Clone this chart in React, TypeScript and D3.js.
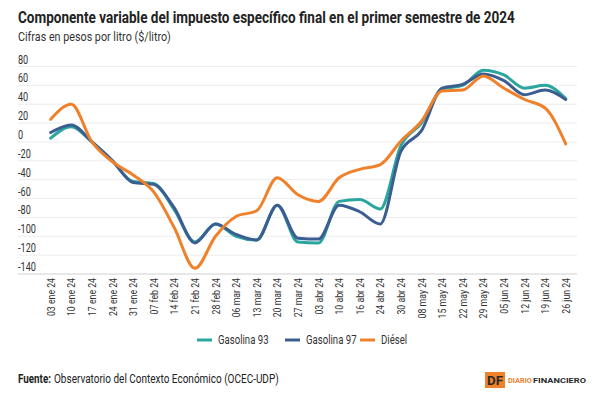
import React, { useEffect, useRef } from "react";
import * as d3 from "d3";

const dates = [
  "03 ene 24", "10 ene 24", "17 ene 24", "24 ene 24", "31 ene 24",
  "07 feb 24", "14 feb 24", "21 feb 24", "28 feb 24", "06 mar 24",
  "13 mar 24", "20 mar 24", "27 mar 24", "03 abr 24", "10 abr 24",
  "16 abr 24", "24 abr 24", "30 abr 24", "08 may 24", "15 may 24",
  "22 may 24", "29 may 24", "05 jun 24", "12 jun 24", "19 jun 24",
  "26 jun 24",
];

const gasolina93 = [4, 16, 0, -20, -42, -44, -72, -106, -87, -100, -104, -67, -106, -107, -63, -61, -71, -4, 20, 56, 60, 76, 71, 57, 60, 46];
const gasolina97 = [10, 18, 0, -20, -43, -45, -70, -107, -87, -98, -104, -67, -102, -103, -67, -74, -87, -10, 12, 57, 61, 72, 65, 50, 55, 45];
const diesel = [24, 40, 0, -21, -35, -53, -91, -134, -100, -79, -73, -38, -56, -63, -38, -29, -24, 1, 22, 54, 55, 70, 57, 45, 36, -2];

const yTicks = [80, 60, 40, 20, 0, -20, -40, -60, -80, -100, -120, -140];

const seriesNames = ["Gasolina 93", "Gasolina 97", "Diésel"];
const seriesColors = ["#2aa69f", "#3b5e92", "#f0802a"];

const font = "'Roboto', sans-serif";
const squeeze = 0.76; // Roboto is wider than the condensed face in the original

const App = () => {
  const svgRef = useRef<SVGSVGElement>(null);

  useEffect(() => {
    document.body.style.margin = "0";
    const svg = d3.select(svgRef.current);
    svg.selectAll("*").remove();

    svg.attr("width", 600).attr("height", 394).style("background", "#fff");

    // text squeezed horizontally to a given width
    const fitText = (x: number, y: number, str: string, width: number, size: number, weight = "normal", fill = "#333") => {
      const t = svg
        .append("text")
        .attr("font-family", font)
        .attr("font-size", size)
        .attr("font-weight", weight)
        .attr("fill", fill)
        .text(str);
      const len = (t.node() as SVGTextElement).getComputedTextLength();
      t.attr("transform", `translate(${x},${y}) scale(${width / len},1)`);
      return t;
    };

    // Title and subtitle
    fitText(18, 23, "Componente variable del impuesto específico final en el primer semestre de 2024", 497, 17, "bold", "#222");
    fitText(18, 41, "Cifras en pesos por litro ($/litro)", 153, 12.5);

    // Scales
    const x = d3.scalePoint().domain(dates).range([50.7, 565.7]);
    const y = d3.scaleLinear().domain([-140, 80]).range([274, 66.5]);

    // Grid lines + y labels
    const grid = svg.append("g");
    grid
      .selectAll("line")
      .data(yTicks)
      .enter()
      .append("line")
      .attr("x1", 18)
      .attr("x2", 577)
      .attr("y1", (d) => y(d))
      .attr("y2", (d) => y(d))
      .attr("stroke", (d) => (d === -140 ? "#d0d0d0" : "#ececec"))
      .attr("stroke-width", 1);

    grid
      .selectAll("text")
      .data(yTicks)
      .enter()
      .append("text")
      .attr("transform", (d) => `translate(18,${y(d) - 3}) scale(${squeeze},1)`)
      .attr("font-family", font)
      .attr("font-size", 12)
      .attr("fill", "#333")
      .text((d) => d);

    // X labels, rotated
    svg
      .append("g")
      .selectAll("text")
      .data(dates)
      .enter()
      .append("text")
      .attr("transform", (d) => `translate(${x(d)! + 4},278) rotate(-90) scale(${squeeze},1)`)
      .attr("text-anchor", "end")
      .attr("font-family", font)
      .attr("font-size", 11.5)
      .attr("fill", "#333")
      .text((d) => d);

    // Lines
    const line = d3
      .line<number>()
      .x((d, i) => x(dates[i])!)
      .y((d) => y(d))
      .curve(d3.curveMonotoneX);

    const allSeries = [gasolina93, gasolina97, diesel];
    svg
      .append("g")
      .selectAll("path")
      .data(allSeries)
      .enter()
      .append("path")
      .attr("d", (d) => line(d))
      .attr("fill", "none")
      .attr("stroke", (d, i) => seriesColors[i])
      .attr("stroke-width", 3)
      .attr("stroke-linejoin", "round")
      .attr("stroke-linecap", "round");

    // Legend
    const legendX = [197, 285, 360];
    const legend = svg
      .append("g")
      .selectAll("g")
      .data(seriesNames)
      .enter()
      .append("g")
      .attr("transform", (d, i) => `translate(${legendX[i]},340)`);
    legend
      .append("line")
      .attr("x1", 0)
      .attr("x2", 15)
      .attr("stroke", (d, i) => seriesColors[i])
      .attr("stroke-width", 3);
    legend
      .append("text")
      .attr("transform", `translate(21,4) scale(${squeeze + 0.04},1)`)
      .attr("font-family", font)
      .attr("font-size", 12)
      .attr("fill", "#333")
      .text((d) => d);

    // Footer
    fitText(18, 383, "Fuente:", 33, 12, "bold", "#222");
    fitText(54, 383, "Observatorio del Contexto Económico (OCEC-UDP)", 225, 12, "normal", "#222");

    // DF logo
    svg
      .append("rect")
      .attr("x", 485)
      .attr("y", 372)
      .attr("width", 20)
      .attr("height", 16)
      .attr("fill", "#f0802a");
    fitText(487, 385, "DF", 16, 13, "bold", "#2a2a2a");
    fitText(508, 383, "DIARIO", 24, 8, "bold", "#f0802a");
    fitText(533, 383, "FINANCIERO", 53, 8, "bold", "#2a2a2a");
  }, []);

  return <svg ref={svgRef}></svg>;
};

export default App;
